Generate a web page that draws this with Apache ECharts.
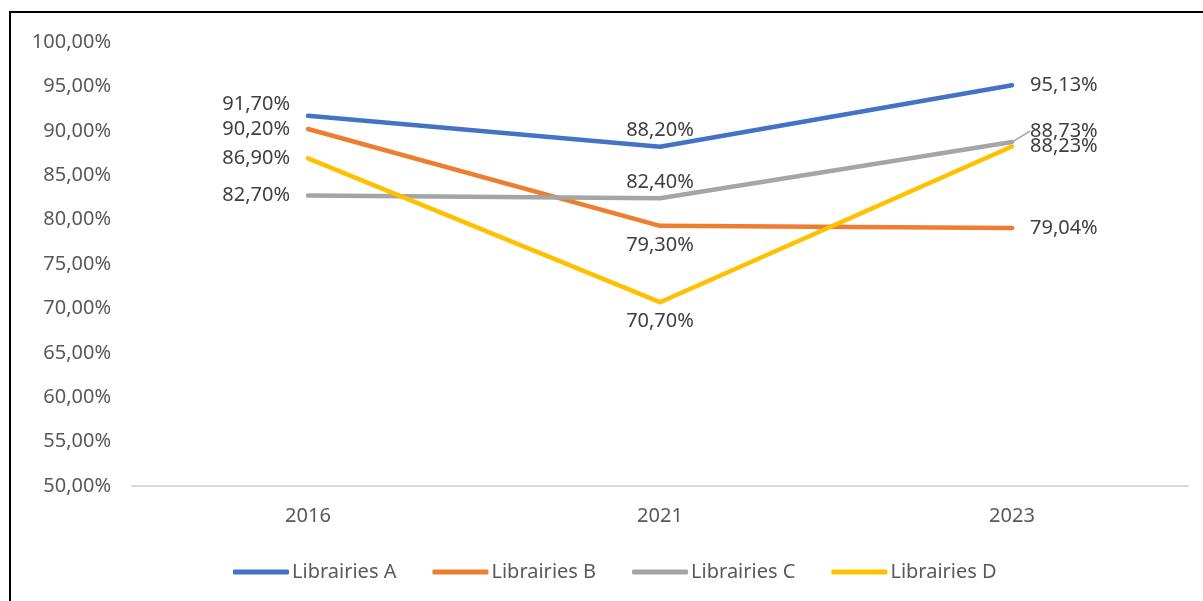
<!DOCTYPE html>
<html>
<head>
    <meta charset="utf-8">
    <script src="https://cdn.jsdelivr.net/npm/echarts@6/dist/echarts.min.js"></script>
    <style>
        body { margin: 0; background: #fff; }
        #main { width: 1203px; height: 601px; }
    </style>
</head>
<body>
<div id="main"></div>
<script>
    // data
    var years = ['2016', '2021', '2023'];
    var seriesNames = ['Librairies A', 'Librairies B', 'Librairies C', 'Librairies D'];
    var libA = [91.70, 88.20, 95.13];
    var libB = [90.20, 79.30, 79.04];
    var libC = [82.70, 82.40, 88.73];
    var libD = [86.90, 70.70, 88.23];
    var colors = ['#4472C4', '#ED7D31', '#A5A5A5', '#FFC000'];
    // where each label sits at 2016 / 2021 / 2023
    var labelPos = [
        ['left', 'top', 'right'],
        ['left', 'bottom', 'right'],
        ['left', 'top', 'right'],
        ['left', 'bottom', 'right']
    ];

    function pct(v) {
        return v.toFixed(2).replace('.', ',') + '%';
    }

    function labelDistance(pos, i) {
        if (i !== 1) return 18;
        return pos === 'bottom' ? 9 : 6;
    }

    var allValues = [libA, libB, libC, libD];
    var series = allValues.map(function (vals, s) {
        return {
            name: seriesNames[s],
            type: 'line',
            symbol: 'circle',
            symbolSize: 0,
            showSymbol: true,
            data: vals.map(function (v, i) {
                var item = {
                    value: v,
                    label: { position: labelPos[s][i], distance: labelDistance(labelPos[s][i], i) }
                };
                // leader line for the label pushed up at 2023 (C)
                if (s === 2 && i === 2) {
                    item.labelLine = { show: true, lineStyle: { color: '#A5A5A5', width: 1.5 } };
                }
                return item;
            }),
            lineStyle: { width: 4.5, color: colors[s], cap: 'round', join: 'round' },
            itemStyle: { color: colors[s] },
            label: {
                show: true,
                fontFamily: 'Noto Sans',
                fontSize: 20,
                color: '#404040',
                formatter: function (p) { return pct(p.value); }
            },
            labelLine: { show: false }
        };
    });

    var chart = echarts.init(document.getElementById('main'));
    chart.setOption({
        animation: false,
        textStyle: { fontFamily: 'Noto Sans' },
        color: colors,
        grid: { left: 132, right: 15, top: 42, bottom: 115 },
        xAxis: {
            type: 'category',
            data: years,
            boundaryGap: true,
            axisLine: { lineStyle: { color: '#D9D9D9', width: 2 } },
            axisTick: { show: false },
            axisLabel: { fontSize: 20, color: '#595959', margin: 20 }
        },
        yAxis: {
            type: 'value',
            min: 50,
            max: 100,
            interval: 5,
            splitLine: { show: false },
            axisLine: { show: false },
            axisTick: { show: false },
            axisLabel: {
                fontSize: 20,
                color: '#595959',
                margin: 21,
                formatter: function (v) { return v + ',00%'; }
            }
        },
        legend: {
            left: 228,
            top: 557,
            icon: 'roundRect',
            itemWidth: 56,
            itemHeight: 5,
            itemGap: 36,
            textStyle: { fontSize: 20, color: '#595959', padding: [0, 0, 0, -2] },
            data: seriesNames
        },
        labelLayout: function (p) {
            if (p.seriesIndex === 0 && p.dataIndex === 0) return { dy: -11 };
            if (p.seriesIndex === 2 && p.dataIndex === 2) return { dy: -11 };
            return {};
        },
        graphic: [{
            type: 'rect',
            shape: { x: 10, y: 12, width: 1400, height: 800 },
            style: { fill: 'none', stroke: '#000', lineWidth: 2 },
            silent: true
        }],
        series: series
    });
</script>
</body>
</html>
